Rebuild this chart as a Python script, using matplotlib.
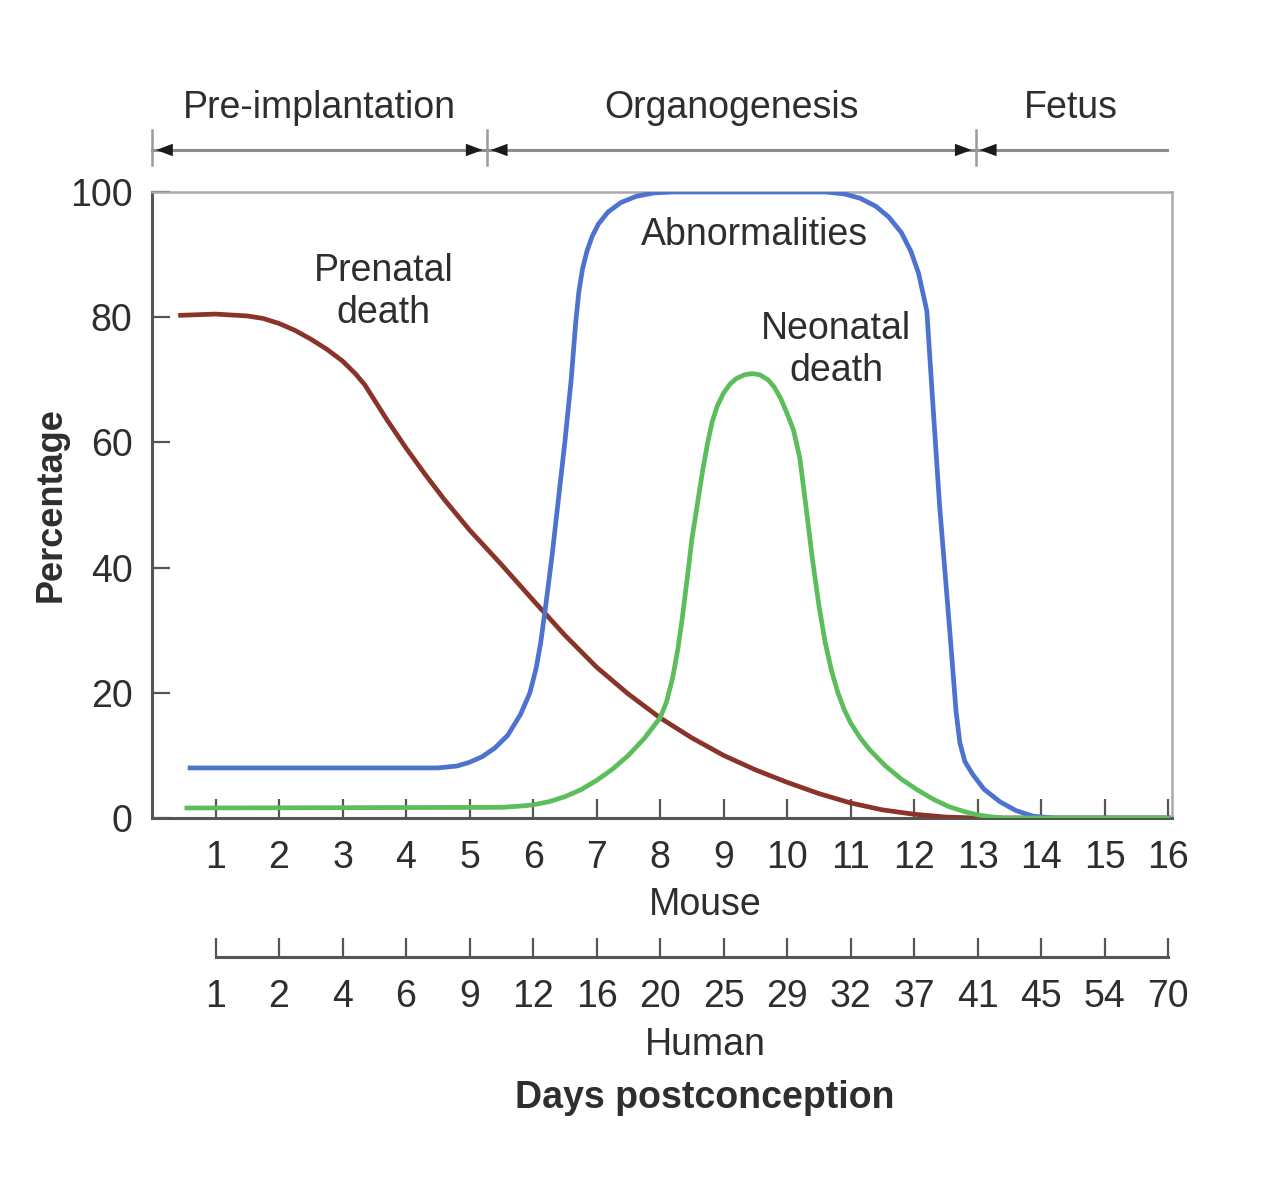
import matplotlib
matplotlib.use('Agg')
import matplotlib.pyplot as plt
from matplotlib.transforms import blended_transform_factory

plt.rcParams['font.family'] = ['Liberation Sans', 'DejaVu Sans']

# Dati (giorni topo -> percentuale)
prenatal_x = [0.45, 1.0, 1.5, 1.75, 2.0, 2.25, 2.5, 2.75, 3.0, 3.2, 3.35, 3.5, 3.7, 4.0, 4.3, 4.6,
              5.0, 5.5, 6.0, 6.5, 7.0, 7.5, 8.0, 8.5, 9.0, 9.5, 10.0, 10.5, 11.0, 11.5, 12.0,
              12.5, 13.0, 16.0]
prenatal_y = [80.3, 80.5, 80.2, 79.8, 79.0, 77.9, 76.5, 74.9, 73.0, 71.0, 69.2, 66.8, 63.6, 59.1,
              54.9, 50.9, 46.0, 40.5, 34.8, 29.2, 24.1, 19.8, 16.0, 12.8, 10.0, 7.7, 5.7, 3.9,
              2.4, 1.3, 0.6, 0.15, 0.0, 0.0]

abnorm_x = [0.6, 4.5, 4.8, 5.0, 5.2, 5.4, 5.6, 5.8, 5.95, 6.05, 6.12, 6.2, 6.3, 6.4, 6.5, 6.6,
            6.67, 6.72, 6.78, 6.85, 6.93, 7.03, 7.18, 7.38, 7.62, 7.9, 8.2, 10.6, 10.9, 11.15,
            11.4, 11.6, 11.8, 11.95, 12.07, 12.2, 12.27, 12.4, 12.56, 12.66, 12.72, 12.8, 12.92,
            13.1, 13.35, 13.6, 13.87, 14.2, 16.0]
abnorm_y = [8.0, 8.0, 8.3, 8.9, 9.8, 11.2, 13.2, 16.5, 20.0, 24.0, 28.0, 34.0, 42.0, 51.0, 60.0,
            70.0, 79.0, 84.0, 87.8, 90.6, 92.9, 94.9, 96.8, 98.3, 99.3, 99.85, 100.0, 100.0, 99.7,
            99.0, 97.7, 96.0, 93.5, 90.5, 87.0, 81.0, 70.0, 50.0, 30.0, 17.0, 12.0, 9.0, 7.0,
            4.6, 2.6, 1.2, 0.3, 0.0, 0.0]

neonatal_x = [0.55, 5.5, 5.8, 6.0, 6.25, 6.5, 6.75, 7.0, 7.25, 7.5, 7.75, 8.0, 8.1, 8.2, 8.28,
              8.35, 8.43, 8.5, 8.6, 8.67, 8.75, 8.82, 8.9, 9.0, 9.1, 9.2, 9.33, 9.45, 9.57, 9.7,
              9.8, 9.9, 10.0, 10.1, 10.2, 10.3, 10.4, 10.5, 10.6, 10.7, 10.8, 10.9, 11.0, 11.15,
              11.3, 11.55, 11.8, 12.05, 12.3, 12.55, 12.8, 13.0, 13.2, 13.4, 16.0]
neonatal_y = [1.6, 1.7, 1.9, 2.1, 2.6, 3.4, 4.5, 6.0, 7.8, 10.0, 12.7, 16.0, 18.5, 22.5, 27.0,
              32.0, 38.5, 44.5, 51.0, 55.5, 60.0, 63.3, 65.8, 67.9, 69.3, 70.2, 70.8, 71.0, 70.8,
              70.0, 68.8, 67.0, 64.6, 62.0, 57.5, 49.5, 41.2, 34.0, 28.0, 23.5, 20.0, 17.3, 15.2,
              12.8, 10.9, 8.3, 6.2, 4.5, 3.0, 1.8, 1.0, 0.5, 0.2, 0.0, 0.0]

mouse_days = list(range(1, 17))
human_days = ['1', '2', '4', '6', '9', '12', '16', '20', '25', '29', '32', '37', '41', '45', '54', '70']

period_edges = [0.0, 5.27, 12.97, 15.98]
period_labels = ['Pre-implantation', 'Organogenesis', 'Fetus']

TXT = '#2e2e2e'
FS = 27

fig = plt.figure(figsize=(12.84, 12), dpi=100)
W, H = 1284, 1200
ax = fig.add_axes([152 / W, 1 - 818 / H, (1172 - 152) / W, (818 - 192) / H])

ax.plot(prenatal_x, prenatal_y, color='#8a3329', lw=3.4, solid_joinstyle='round', zorder=3)
ax.plot(abnorm_x, abnorm_y, color='#4d72cf', lw=3.4, solid_joinstyle='round', zorder=3)
ax.plot(neonatal_x, neonatal_y, color='#5bbd5b', lw=3.4, solid_joinstyle='round', zorder=4)

ax.set_xlim(0, 16.06)
ax.set_ylim(0, 100)

# assi
for s in ['left', 'bottom']:
    ax.spines[s].set_color('#555555')
    ax.spines[s].set_linewidth(2.2)
for s in ['top', 'right']:
    ax.spines[s].set_color('#aaaaaa')
    ax.spines[s].set_linewidth(1.8)

ax.set_yticks([0, 20, 40, 60, 80, 100])
ax.tick_params(axis='y', direction='in', length=13, width=1.6, color='#555555',
               labelsize=FS, labelcolor=TXT, pad=14)
ax.set_xticks(mouse_days)
ax.set_xticklabels([str(d) for d in mouse_days])
ax.tick_params(axis='x', direction='in', length=14, width=1.6, color='#555555',
               labelsize=FS, labelcolor=TXT, pad=16)

ax.set_ylabel('Percentage', fontsize=FS - 1, fontweight='bold', color=TXT, labelpad=1)

# etichette delle curve
ax.text(3.65, 84.0, 'Prenatal\ndeath', fontsize=FS, color=TXT, ha='center', va='center',
        linespacing=1.2)
ax.text(9.48, 93.1, 'Abnormalities', fontsize=FS, color=TXT, ha='center', va='center')
ax.text(10.77, 74.8, 'Neonatal\ndeath', fontsize=FS, color=TXT, ha='center', va='center',
        linespacing=1.2)

# barra dei periodi in alto
trans = blended_transform_factory(ax.transData, ax.transAxes)
bar_y = (818 - 150) / 626
lab_y = (818 - 108) / 626
styles = ['<|-|>', '<|-|>', '-|>']
for i in range(3):
    x0, x1 = period_edges[i], period_edges[i + 1]
    ax.plot([x0, x1], [bar_y, bar_y], transform=trans, color='#8c8c8c', lw=2.2,
            clip_on=False, zorder=1)
    ax.annotate('', xy=(x0, bar_y), xytext=(x1, bar_y), xycoords=trans, textcoords=trans,
                annotation_clip=False,
                arrowprops=dict(arrowstyle=styles[i] + ',head_length=0.8,head_width=0.3',
                                mutation_scale=15, color='#1a1a1a', lw=0,
                                shrinkA=3, shrinkB=3))
    ax.text((x0 + x1) / 2, lab_y, period_labels[i], transform=trans, fontsize=FS,
            color=TXT, ha='center', va='center')
for x in period_edges[:3]:
    ax.plot([x, x], [(818 - 130) / 626, (818 - 165) / 626], transform=trans,
            color='#9a9a9a', lw=1.8, clip_on=False)

fig.text(705 / W, 1 - 905 / H, 'Mouse', fontsize=FS, color=TXT, ha='center', va='center')

# asse umano
hx = fig.add_axes([152 / W, 1 - 957 / H, (1172 - 152) / W, 0.0001])
hx.set_xlim(0, 16.06)
hx.set_ylim(0, 1)
for s in ['left', 'right', 'top']:
    hx.spines[s].set_visible(False)
hx.spines['bottom'].set_bounds(1, 16)
hx.spines['bottom'].set_color('#555555')
hx.spines['bottom'].set_linewidth(2.2)
hx.patch.set_visible(False)
hx.set_yticks([])
hx.set_xticks(mouse_days)
hx.set_xticklabels(human_days)
hx.tick_params(axis='x', direction='in', length=14, width=1.6, color='#555555',
               labelsize=FS, labelcolor=TXT, pad=16)

fig.text(705 / W, 1 - 1045 / H, 'Human', fontsize=FS, color=TXT, ha='center', va='center')
fig.text(705 / W, 1 - 1098 / H, 'Days postconception', fontsize=FS, fontweight='bold',
         color=TXT, ha='center', va='center')

fig.savefig('out.png', dpi=100)
